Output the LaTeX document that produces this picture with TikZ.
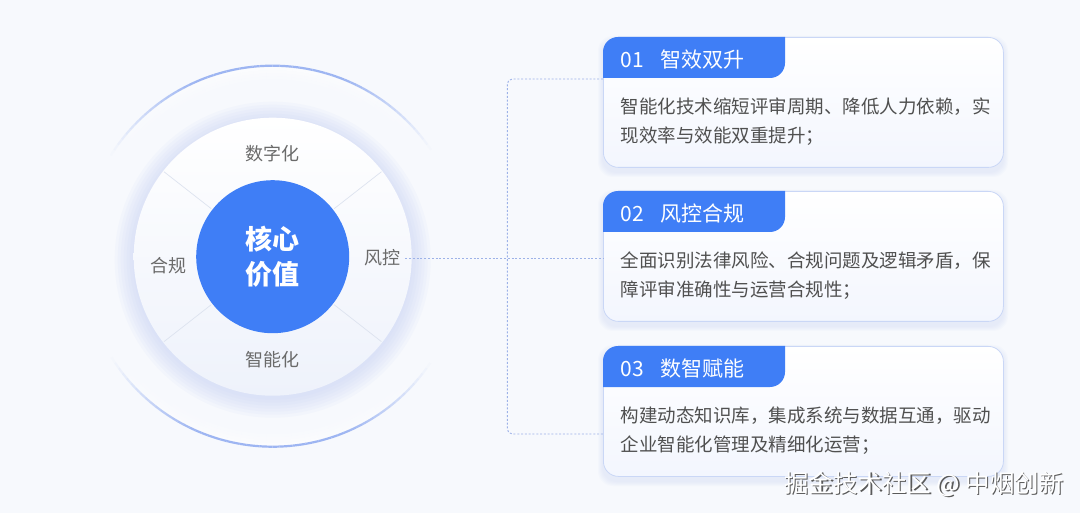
\documentclass[tikz,border=0pt]{standalone}
\usepackage{fontspec}
\setmainfont{Noto Sans CJK SC}
\usetikzlibrary{calc}
\definecolor{bg}{HTML}{F7F9FD}
\definecolor{mainblue}{HTML}{3F7EF6}
\definecolor{ringblue}{HTML}{9DB5F2}
\definecolor{labelgray}{HTML}{6A6A6A}
\definecolor{bodygray}{HTML}{505050}
\definecolor{cardborder}{HTML}{CAD7F6}
\definecolor{connblue}{HTML}{9DB2E8}
\definecolor{divline}{HTML}{DDE3EF}
\definecolor{glow}{HTML}{C6D3F7}
\definecolor{midbottom}{HTML}{EEF2FB}
\definecolor{cardbottom}{HTML}{F3F6FE}
\definecolor{wmshadow}{HTML}{5A5A5A}
\begin{document}
\begin{tikzpicture}[x=1pt,y=-1pt,
  lbl/.style={text=labelgray,font=\fontsize{18}{20}\selectfont,inner sep=0pt},
  cardbox/.style={rounded corners=15pt,draw=cardborder,line width=0.8pt,
    top color=white,bottom color=cardbottom,minimum width=400pt,minimum height=130pt,inner sep=0pt},
  hdr/.style={text=white,font=\fontsize{21}{24}\selectfont,inner sep=0pt,anchor=west},
  bodytxt/.style={text=bodygray,font=\fontsize{18.5}{22}\selectfont,inner sep=0pt,anchor=west},
  conn/.style={draw=connblue,line width=0.9pt,dash pattern=on 2pt off 1.8pt},
  divider/.style={draw=divline,line width=0.7pt}
]
\fill[bg] (0,0) rectangle (1080,513);
\useasboundingbox (0,0) rectangle (1080,513);
\coordinate (C) at (272.7,256.7);

% ---- outer ring: white glow band + blue arcs (top and bottom), faded ends
\foreach \a in {32,36,...,144}{
  \pgfmathsetmacro\pf{max(0,sin((\a-32)/116*180))}
  \foreach \r/\k in {188/0.55,185/0.42,182/0.3,179/0.2,176/0.12,173/0.06}{
    \pgfmathsetmacro\op{\pf*\k}
    \draw[white,line width=3pt,opacity=\op] (C) ++(-\a:\r) arc[start angle=-\a,end angle=-\a-4,radius=\r];
    \draw[white,line width=3pt,opacity=\op] (C) ++(\a:\r) arc[start angle=\a,end angle=\a+4,radius=\r];
  }
}
\foreach \a in {32,34,...,146}{
  \pgfmathsetmacro\op{min(1,1.3*max(0,sin((\a-32)/116*180))^1.3)}
  \draw[ringblue,line width=2.2pt,opacity=\op] (C) ++(-\a:191) arc[start angle=-\a,end angle=-\a-2,radius=191];
  \draw[ringblue,line width=2.2pt,opacity=\op] (C) ++(\a:190) arc[start angle=\a,end angle=\a+2,radius=190];
}

% ---- glow around the middle disk
\foreach \r in {158,155,...,140}{
  \fill[glow,opacity=0.1] ($(C)+(0,3)$) circle[radius=\r];
}
\node[circle,minimum size=278pt,inner sep=0pt,top color=white,bottom color=midbottom] (mid) at (C) {};

% dividers
\foreach \a in {38,142,218,322}{
  \draw[divider] ($(C)+(-\a:78)$) -- ($(C)+(-\a:138)$);
}

% core
\node[circle,fill=mainblue,minimum size=153pt,inner sep=0pt,text=white,
  font=\bfseries\fontsize{27}{35}\selectfont,align=center] (core) at (C) {核心\\价值};

% labels
\node[lbl] (l1) at (272,154) {数字化};
\node[lbl] (l2) at (382,258) {风控};
\node[lbl] (l3) at (168,266) {合规};
\node[lbl] (l4) at (272,360) {智能化};

% ---- cards
\foreach \i/\y/\num/\title/\la/\lb in {
  1/37/01/{智效双升}/{智能化技术缩短评审周期、降低人力依赖，实}/{现效率与效能双重提升；},
  2/191/02/{风控合规}/{全面识别法律风险、合规问题及逻辑矛盾，保}/{障评审准确性与运营合规性；},
  3/346/03/{数智赋能}/{构建动态知识库，集成系统与数据互通，驱动}/{企业智能化管理及精细化运营；}}{
  \foreach \s in {1,2,...,5}{
    \fill[glow,opacity=0.07,rounded corners=15pt] (603-\s,\y-\s+4) rectangle (1003+\s,\y+131+\s+4);
  }
  \node[cardbox,anchor=north west] (c\i) at (603,\y) {};
  \fill[mainblue] (603,\y+41) -- (603,\y+15) arc[start angle=180,end angle=270,radius=15]
     -- (785,\y) -- (785,\y+26) arc[start angle=0,end angle=90,radius=15] -- cycle;
  \node[hdr] (n\i) at (620.5,\y+23) {\num};
  \node[hdr] (t\i) at (660.5,\y+23) {\title};
  \node[bodytxt] (a\i) at (620.5,\y+70) {\la};
  \node[bodytxt] (b\i) at (620.5,\y+99) {\lb};
}

% ---- connectors
\coordinate (jt) at (507.3,79);
\coordinate (jb) at (507.3,434);
\coordinate (e1) at (603,79);
\coordinate (e3) at (603,434);
\draw[conn,shorten <=5pt] (l2.east) -- (l2.east -| c2.west);
\draw[conn,rounded corners=5pt] (e1) -- (jt) -- (jb) -- (e3);

% ---- watermark
\node[text=wmshadow,font=\fontsize{24.5}{28}\selectfont,inner sep=0pt] (wms) at (925.2,485.2) {掘金技术社区 @ 中烟创新};
\node[text=white,font=\fontsize{24.5}{28}\selectfont,inner sep=0pt] (wm) at (924,484) {掘金技术社区 @ 中烟创新};
\end{tikzpicture}
\end{document}
